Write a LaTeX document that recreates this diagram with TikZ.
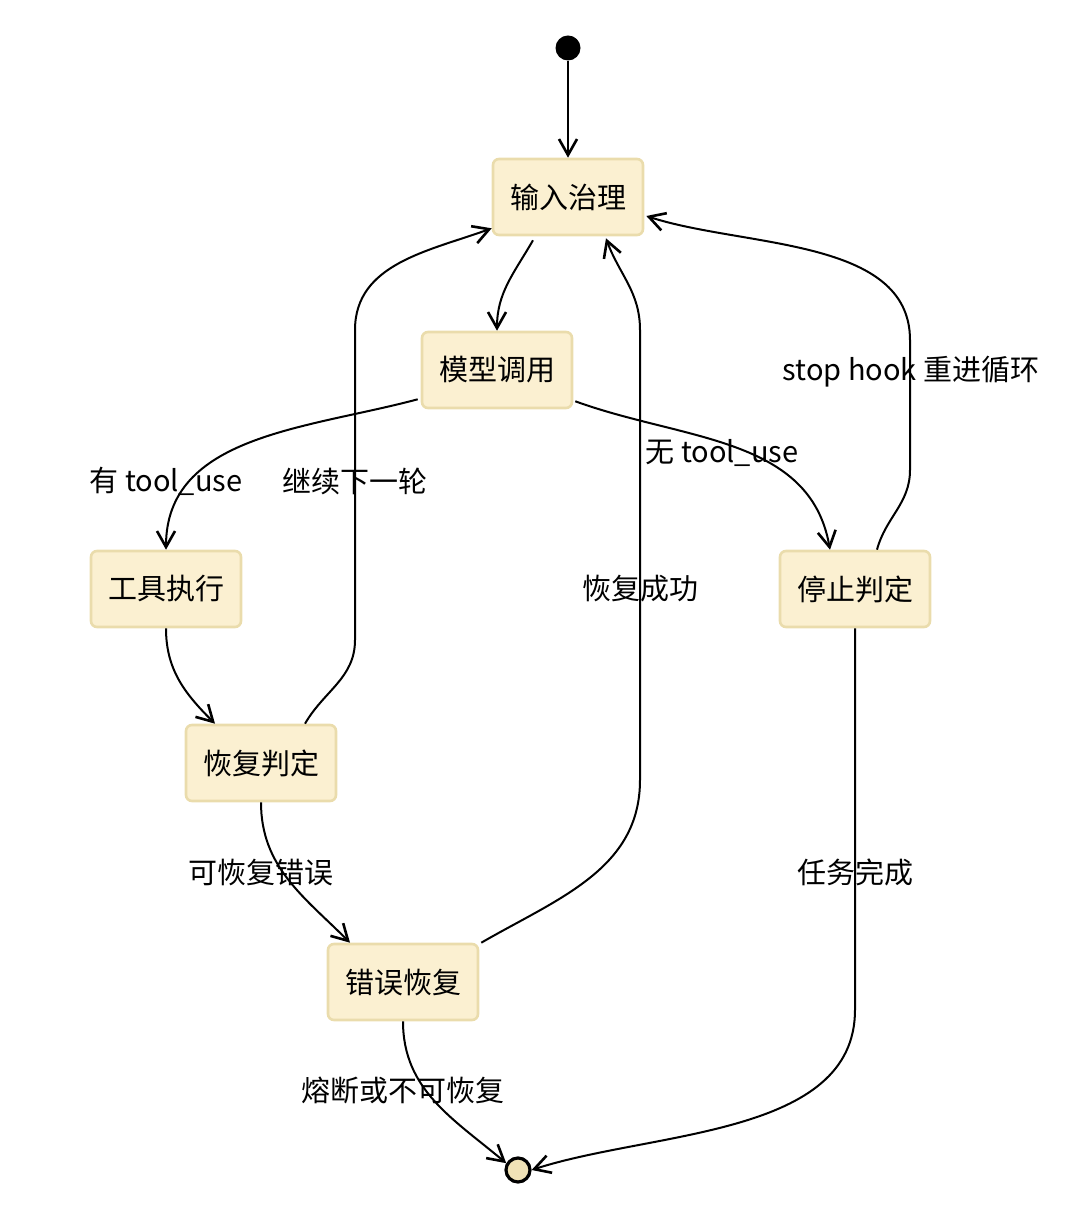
\documentclass[tikz,border=0pt]{standalone}
\usepackage{fontspec}
\setmainfont{Noto Sans CJK SC}
\usetikzlibrary{arrows.meta,calc}
\definecolor{boxfill}{RGB}{251,240,209}
\definecolor{boxline}{RGB}{234,220,172}
\definecolor{endfill}{RGB}{240,226,182}

\begin{document}
\begin{tikzpicture}[x=0.5pt,y=0.5pt]
    \tikzstyle{every node}=[font=\fontsize{14.5}{17}\selectfont]
    \tikzstyle{state}=[draw=boxline,fill=boxfill,line width=1.3pt,
                       rounded corners=3pt,minimum width=75pt,
                       minimum height=38pt,inner sep=0pt]
    \tikzstyle{flow}=[draw,line width=1pt,
                      -{Straight Barb[length=8pt,width=9pt,line width=1.3pt]}]
    \useasboundingbox (0,0) rectangle (1080,1228);

    % The start and end points
    \node (start) at (568,1180) [circle,fill=black,minimum size=12.5pt,inner sep=0pt] {};
    \node (end) at (518,58) [circle,draw=black,line width=1.6pt,fill=endfill,
                             minimum size=12pt,inner sep=0pt] {};

    % The states
    \node (input) at (568,1031) [state] {输入治理};
    \node (model) at (497,858) [state] {模型调用};
    \node (tool)  at (166,639) [state] {工具执行};
    \node (stop)  at (855,639) [state] {停止判定};
    \node (recov) at (261,465) [state] {恢复判定};
    \node (err)   at (403,246) [state] {错误恢复};

    % Main path down from the start
    \draw[flow] (start) -- (input);
    \draw[flow] ($(input.south)+(-35,-4)$) to [out=240,in=90] (model.north);
    \draw[flow] ($(model.south west)+(-3,10)$) to [out=195,in=90] (tool.north);
    \draw[flow] ($(model.south east)+(2,8)$) to [out=-20,in=100]
        ($(stop.north)+(-25,0)$);
    \draw[flow] (tool.south) to [out=-90,in=135] ($(recov.north)+(-46,0)$);

    % Loops back to the first state
    \draw[flow] ($(recov.north)+(44,0)$) to [out=60,in=-90] (355,588)
        -- (355,898) to [out=90,in=200] ($(input.south west)+(0,8)$);
    \draw[flow] ($(stop.north)+(22,0)$) to [out=75,in=-90] (910,758)
        -- (910,888) to [out=90,in=-18,looseness=0.9] ($(input.east)+(2,-19)$);
    \draw[flow] ($(err.north east)+(2,0)$) to [out=30,in=-90] (640,448)
        -- (640,898) to [out=90,in=-70] ($(input.south)+(38,-2)$);

    % Errors and the way out
    \draw[flow] (recov.south) to [out=-90,in=135] ($(err.north)+(-53,0)$);
    \draw[flow] (err.south) to [out=-90,in=140] (end.150);
    \draw[flow] (stop.south) -- (855,218) to [out=-90,in=18,looseness=0.9] (end.east);

    % Labels on the connectors
    \node (l1) at (166,747) {有 tool\_use};
    \node (l2) at (355,747) {继续下一轮};
    \node (l3) at (722,775) {无 tool\_use};
    \node (l4) at (911,856) {stop hook 重进循环};
    \node (l5) at (640,639) {恢复成功};
    \node (l6) at (261,356) {可恢复错误};
    \node (l7) at (855,356) {任务完成};
    \node (l8) at (403,138) {熔断或不可恢复};

\end{tikzpicture}
\end{document}
